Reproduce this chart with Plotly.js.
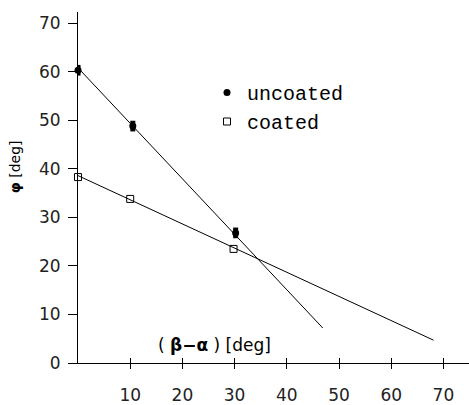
<!DOCTYPE html>
<html>
<head>
<meta charset="utf-8">
<script src="https://cdn.plot.ly/plotly-3.0.1.min.js"></script>
<style>html,body{margin:0;padding:0;background:#fff;}#chart{width:469px;height:405px;}</style>
</head>
<body>
<div id="chart"></div>
<script>
// measured points
const uncoatedX = [0, 10.5, 30.2];
const uncoatedY = [60.3, 48.8, 26.8];
const coatedX = [0, 10, 29.8];
const coatedY = [38.3, 33.8, 23.5];
// fitted lines (end points)
const uncoatedFitX = [0, 46.9];
const uncoatedFitY = [60.8, 7.2];
const coatedFitX = [0, 68.1];
const coatedFitY = [38.6, 4.7];
const xTicks = [10, 20, 30, 40, 50, 60, 70];
const yTicks = [0, 10, 20, 30, 40, 50, 60, 70];

const traces = [
  {x: uncoatedFitX, y: uncoatedFitY, mode: 'lines', line: {color: '#000', width: 1}, showlegend: false, hoverinfo: 'skip'},
  {x: coatedFitX, y: coatedFitY, mode: 'lines', line: {color: '#000', width: 1}, showlegend: false, hoverinfo: 'skip'},
  {x: uncoatedX, y: uncoatedY, name: 'uncoated', mode: 'markers', cliponaxis: false,
   marker: {symbol: 'circle', size: 7, color: '#000'},
   error_y: {type: 'constant', value: 1.1, thickness: 5, width: 0, color: '#000'}},
  {x: coatedX, y: coatedY, name: 'coated', mode: 'markers', cliponaxis: false,
   marker: {symbol: 'square-open', size: 7, color: '#000', line: {width: 1, color: '#000'}}},
  {x: [0], y: [0], xaxis: 'x2', mode: 'markers', marker: {opacity: 0}, showlegend: false, hoverinfo: 'skip'}
];

const layout = {
  width: 469, height: 405,
  margin: {l: 78, r: 0, t: 12, b: 42},
  paper_bgcolor: '#fff', plot_bgcolor: '#fff',
  font: {family: 'DejaVu Sans', color: '#222', size: 16},
  xaxis: {range: [0, 74.9], tickvals: xTicks, ticktext: xTicks.map(String),
    showgrid: false, zeroline: false, showline: true, linecolor: '#000', linewidth: 1,
    ticks: 'outside', ticklen: 5, tickcolor: '#000', tickwidth: 1,
    ticklabelstandoff: 12, tickfont: {family: 'DejaVu Sans', size: 17, color: '#222'}},
  xaxis2: {range: [0, 74.9], overlaying: 'x', anchor: 'y', tickvals: xTicks,
    showticklabels: false, showgrid: false, zeroline: false, showline: false,
    ticks: 'inside', ticklen: 5, tickcolor: '#000', tickwidth: 1},
  yaxis: {range: [0, 72.3], tickvals: yTicks, ticktext: yTicks.map(String),
    showgrid: false, zeroline: false, showline: true, linecolor: '#000', linewidth: 1,
    ticks: 'outside', ticklen: 9, tickcolor: '#000', tickwidth: 1,
    ticklabelstandoff: 4, tickfont: {family: 'DejaVu Sans', size: 17, color: '#222'}},
  showlegend: true,
  legend: {x: (207 - 78) / 391, y: (363 - 73) / 351, xanchor: 'left', yanchor: 'top',
    bgcolor: 'rgba(0,0,0,0)', borderwidth: 0,
    font: {family: 'Liberation Mono', size: 20, color: '#000'}, itemwidth: 30, tracegroupgap: 0},
  annotations: [
    {text: '<b>φ</b> [deg]', textangle: -90, xref: 'paper', yref: 'paper',
     x: -0.161, y: 0.558, xanchor: 'center', yanchor: 'middle', showarrow: false,
     font: {family: 'DejaVu Sans', size: 14, color: '#000'}},
    {text: '( <b>β−α</b> ) [deg]', xref: 'paper', yref: 'paper',
     x: 0.348, y: 0.051, xanchor: 'center', yanchor: 'middle', showarrow: false,
     font: {family: 'DejaVu Sans', size: 17, color: '#000'}}
  ]
};

Plotly.newPlot('chart', traces, layout, {displayModeBar: false, staticPlot: true});
</script>
</body>
</html>
